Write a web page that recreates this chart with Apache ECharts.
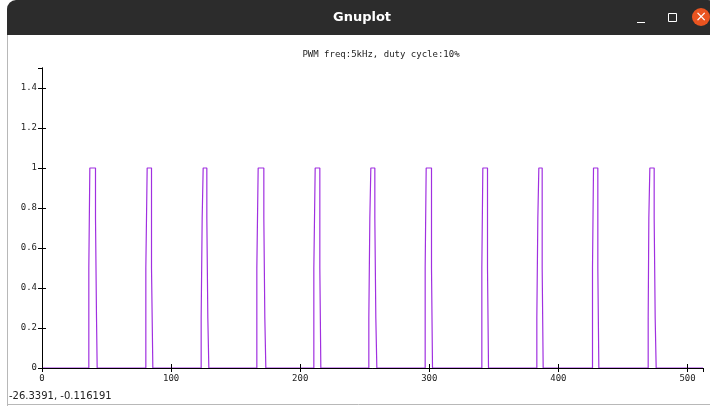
<!DOCTYPE html>
<html>
<head>
<meta charset="utf-8">
<style>
  html, body { margin: 0; padding: 0; background: #fff; }
  #main { width: 710px; height: 406px; }
</style>
</head>
<body>
<div id="main"></div>
<script src="https://cdn.jsdelivr.net/npm/echarts@6/dist/echarts.min.js"></script>
<script>
  // edges of each pulse (x where the level changes) and the level after each edge
  const pulseEdges = [
    [36.27, 37.05, 41.44, 42.22, 42.73],
    [80.43, 81.46, 84.82, 85.85],
    [123.29, 124.07, 124.84, 127.68, 128.45, 129.23],
    [166.41, 167.44, 171.83, 172.6, 173.38],
    [210.56, 211.6, 215.21, 215.98],
    [253.16, 253.94, 254.71, 257.81, 258.58, 259.36],
    [296.8, 297.58, 301.7, 302.48],
    [340.69, 341.46, 345.08, 345.86],
    [383.29, 384.07, 384.84, 387.43, 388.2],
    [426.41, 427.19, 430.54, 431.32],
    [469.54, 470.05, 470.83, 474.18, 474.96, 475.73]
  ];
  const pulseLevels = [
    [0.5, 1, 0.75, 0.25, 0],
    [0.5, 1, 0.5, 0],
    [0.25, 0.75, 1, 0.75, 0.25, 0],
    [0.5, 1, 0.75, 0.25, 0],
    [0.5, 1, 0.5, 0],
    [0.25, 0.75, 1, 0.75, 0.25, 0],
    [0.5, 1, 0.5, 0],
    [0.5, 1, 0.5, 0],
    [0.25, 0.75, 1, 0.5, 0],
    [0.5, 1, 0.5, 0],
    [0.25, 0.75, 1, 0.75, 0.25, 0]
  ];
  const xRange = [0, 512];
  const yRange = [0, 1.5];
  const titleText = 'PWM freq:5kHz, duty cycle:10%';
  const statusText = '-26.3391, -0.116191';

  var data = [[xRange[0], 0]];
  pulseEdges.forEach(function (edges, i) {
    edges.forEach(function (x, j) {
      data.push([x, pulseLevels[i][j]]);
    });
  });
  data.push([xRange[1], 0]);

  var chartDom = document.getElementById('main');
  var myChart = echarts.init(chartDom);
  var option;

  var font = 'DejaVu Sans Mono';
  var tickLabel = { color: '#222', fontSize: 9, fontFamily: font };

  option = {
    backgroundColor: '#fff',
    animation: false,
    title: {
      text: titleText,
      left: 376,
      top: 45,
      textAlign: 'center',
      textStyle: { fontSize: 9, fontWeight: 'normal', color: '#222', fontFamily: font }
    },
    grid: { left: 42, right: 7, top: 68, bottom: 38 },
    xAxis: [
      {
        type: 'value', min: xRange[0], max: xRange[1], interval: 100, z: 5,
        axisLine: { lineStyle: { color: '#000', width: 1 } },
        axisTick: { inside: true, length: 4, lineStyle: { color: '#000' } },
        axisLabel: Object.assign({ margin: 6, showMaxLabel: false }, tickLabel),
        splitLine: { show: false }
      },
      {
        type: 'value', position: 'top', min: xRange[0], max: xRange[1], interval: 100, z: 5,
        axisLine: { lineStyle: { color: '#000', width: 1 } },
        axisTick: { inside: true, length: 4, lineStyle: { color: '#000' } },
        axisLabel: { show: false },
        splitLine: { show: false }
      }
    ],
    yAxis: [
      {
        type: 'value', min: yRange[0], max: yRange[1], interval: 0.2, z: 5,
        axisLine: { show: true, lineStyle: { color: '#000', width: 1 } },
        axisTick: { show: true, inside: true, length: 4, lineStyle: { color: '#000' } },
        axisLabel: Object.assign({ margin: 5, showMaxLabel: false }, tickLabel),
        splitLine: { show: false }
      },
      {
        type: 'value', position: 'right', min: yRange[0], max: yRange[1], interval: 0.2, z: 5,
        axisLine: { show: true, lineStyle: { color: '#000', width: 1 } },
        axisTick: { show: true, inside: true, length: 4, lineStyle: { color: '#000' } },
        axisLabel: { show: false },
        splitLine: { show: false }
      }
    ],
    series: [
      {
        type: 'line',
        data: data,
        step: 'end',
        showSymbol: false,
        z: 2,
        lineStyle: { color: '#a030e0', width: 1.2 },
        itemStyle: { color: '#a030e0' }
      }
    ],
    graphic: [
      // window frame
      { type: 'rect', shape: { x: 7, y: 0, width: 710, height: 35, r: [9, 9, 0, 0] }, style: { fill: '#2c2c2c' } },
      { type: 'line', shape: { x1: 7.5, y1: 35, x2: 7.5, y2: 406 }, style: { stroke: '#b8b8b8', lineWidth: 1 } },
      { type: 'line', shape: { x1: 7, y1: 404.5, x2: 710, y2: 404.5 }, style: { stroke: '#b8b8b8', lineWidth: 1 } },
      { type: 'text', style: { text: 'Gnuplot', x: 362, y: 18, align: 'center', verticalAlign: 'middle', fill: '#fff', font: 'bold 13px "DejaVu Sans"' } },
      { type: 'line', shape: { x1: 637, y1: 22.5, x2: 645, y2: 22.5 }, style: { stroke: '#fff', lineWidth: 1 } },
      { type: 'rect', shape: { x: 668.5, y: 13.5, width: 8, height: 8 }, style: { fill: 'none', stroke: '#fff', lineWidth: 1 } },
      { type: 'circle', shape: { cx: 701, cy: 17, r: 9 }, style: { fill: '#e95420' } },
      { type: 'text', style: { text: '×', x: 701, y: 17, align: 'center', verticalAlign: 'middle', fill: '#fff', font: '14px "DejaVu Sans"' } },
      // status line
      { type: 'text', style: { text: statusText, x: 9, y: 396, verticalAlign: 'middle', fill: '#222', font: '10px "DejaVu Sans"' } }
    ]
  };

  option && myChart.setOption(option);

  window.onresize = function () {
    myChart.resize();
  };
</script>
</body>
</html>
